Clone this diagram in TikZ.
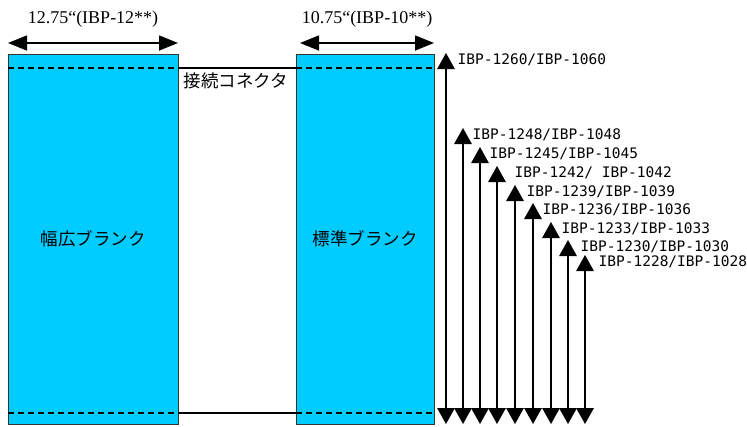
\documentclass[tikz,border=0pt]{standalone}
\usepackage{fontspec}
\usepackage{tikz}
\usetikzlibrary{arrows.meta}
\newfontfamily\jpfont{Noto Sans CJK JP}
\newfontfamily\modelfont{DejaVu Sans Mono}
\newfontfamily\dimfont{Liberation Serif}
\definecolor{blankblue}{RGB}{0,204,255}

\begin{document}
\begin{tikzpicture}[x=1pt, y=-1pt, line width=1.3pt,
  blank/.style={draw=black!80, line width=1pt, fill=blankblue, anchor=north west,
    outer sep=0pt, minimum height=370pt, font=\jpfont\fontsize{17.5}{20}\selectfont},
  seam/.style={dash pattern=on 6pt off 4pt, line width=1.5pt},
  dim/.style={{Triangle[length=19pt,width=15pt]}-{Triangle[length=19pt,width=15pt]}, line width=1.5pt},
  size/.style={{Triangle[length=16pt,width=17.5pt]}-{Triangle[length=16pt,width=17.5pt]}, line width=1.3pt},
  model/.style={anchor=west, inner sep=0pt, font=\modelfont\fontsize{14.5}{16}\selectfont}]
\useasboundingbox (0,0) rectangle (747,426);

\node [blank, minimum width=170pt] (wide) at (8,54) {幅広ブランク};
\node [blank, minimum width=138pt] (std) at (296,54) {標準ブランク};

% seams and connectors
\foreach \b in {wide,std} {
  \draw [seam] ([yshift=-14pt]\b.north west) -- ([yshift=-14pt]\b.north east);
  \draw [seam] ([yshift=11pt]\b.south west) -- ([yshift=11pt]\b.south east);
}
\draw ([yshift=-14pt]wide.north east) -- ([yshift=-14pt]std.north west);
\draw ([yshift=11pt]wide.south east) -- ([yshift=11pt]std.south west);
\node [anchor=west, inner sep=0pt, font=\jpfont\fontsize{17.5}{20}\selectfont] (link)
  at ([xshift=5pt, yshift=-27pt]wide.north east) {接続コネクタ};

% widths
\draw [dim] ([yshift=11pt]wide.north west) -- ([yshift=11pt]wide.north east)
    node [midway, yshift=24pt, inner sep=0pt, font=\dimfont\fontsize{18}{20}\selectfont] {12.75“(IBP-12**)};
\draw [dim] ([xshift=4pt, yshift=11pt]std.north west) -- ([yshift=11pt]std.north east)
    node [midway, yshift=24pt, inner sep=0pt, font=\dimfont\fontsize{18}{20}\selectfont] {10.75“(IBP-10**)};

% lengths
\foreach \xx/\yy/\dx/\l [count=\i] in {446/53/11/{IBP-1260/IBP-1060}, 463/128/9/{IBP-1248/IBP-1048},
    480/147/9/{IBP-1245/IBP-1045}, 497/166/17/{IBP-1242/\ IBP-1042}, 515/185/11/{IBP-1239/IBP-1039},
    533/203/9/{IBP-1236/IBP-1036}, 551/222/10/{IBP-1233/IBP-1033}, 568/240/12/{IBP-1230/IBP-1030},
    585/255/13/{IBP-1228/IBP-1028}} {
  \coordinate (top-\i) at (\xx,\yy);
  \coordinate (bot-\i) at (\xx,424);
  \draw [size] (bot-\i) -- (top-\i);
  \node [model] (model-\i) at ([xshift=\dx pt, yshift=-7pt]top-\i) {\l};
}
\end{tikzpicture}
\end{document}
